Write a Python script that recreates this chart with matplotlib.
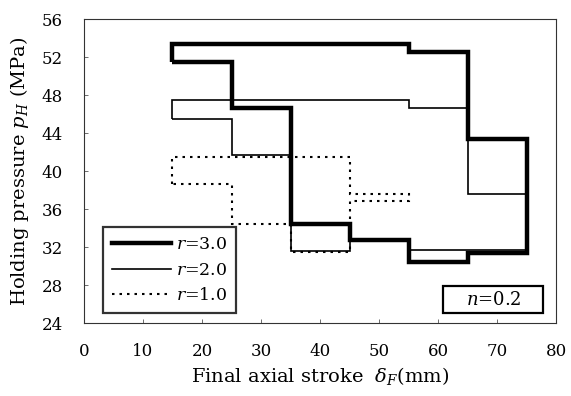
import numpy as np
import matplotlib
matplotlib.use("Agg")
import matplotlib.pyplot as plt
from matplotlib.lines import Line2D
from matplotlib.patches import Rectangle

plt.rcParams.update({
    "font.family": "DejaVu Serif", "font.size": 12,
    "mathtext.fontset": "dejavuserif",
})

# ── Data ───────────────────────────────────────────────────────
edges = [15, 25, 35, 45, 55, 65, 75]        # stroke bins, mm

r3_upper = [53.4, 53.4, 53.4, 53.4, 52.5, 43.4]
r3_lower = [51.5, 46.6, 34.4, 32.7, 30.4, 31.4]

r2_upper = [47.5, 47.5, 47.5, 47.5, 46.6, 37.6]
r2_lower = [45.5, 41.7, 31.6, 32.7, 31.7, 31.7]

r1_edges = [15, 25, 35, 45, 55]
r1_upper = [41.5, 41.5, 41.5, 37.6]
r1_lower = [38.6, 34.4, 31.5, 36.8]

labels = ["$r$=3.0", "$r$=2.0", "$r$=1.0"]
DOT = (0, (1.2, 2.4))

fig = plt.figure(figsize=(5.71, 3.96), dpi=100)
ax = fig.add_axes([0.147, 0.184, 0.827, 0.768])

ax.stairs(r1_upper, r1_edges, baseline=r1_lower, color="black",
          lw=1.5, ls=DOT, zorder=2)
ax.stairs(r2_upper, edges, baseline=r2_lower, color="black",
          lw=1.2, zorder=3)
ax.stairs(r3_upper, edges, baseline=r3_lower, color="black",
          lw=3.2, zorder=4)

ax.set_xlim(0, 80)
ax.set_ylim(24, 56)
ax.set_xticks(np.arange(0, 81, 10))
ax.set_yticks(np.arange(24, 57, 4))
ax.tick_params(direction="in", length=3, width=0.6, color="#555",
               labelsize=12)
ax.tick_params(axis="y", pad=15)
ax.tick_params(axis="x", pad=14)
for s in ax.spines.values():
    s.set_linewidth(0.8)
    s.set_color("#333")

ax.set_ylabel("Holding pressure $p_H$ (MPa)", fontsize=14, labelpad=8)
ax.set_xlabel("Final axial stroke  $\\delta_F$(mm)", fontsize=14,
              labelpad=4)

handles = [Line2D([], [], color="black", lw=3.2),
           Line2D([], [], color="black", lw=1.2),
           Line2D([], [], color="black", lw=1.5, ls=DOT)]
leg = ax.legend(handles, labels, loc="lower left",
                bbox_to_anchor=(0.04, 0.033), borderaxespad=0,
                fontsize=12.5, frameon=True, fancybox=False,
                handlelength=3.4, borderpad=0.5, labelspacing=0.5,
                handletextpad=0.3)
leg.get_frame().set_edgecolor("black")
leg.get_frame().set_linewidth(1.6)

ax.add_patch(Rectangle((0.761, 0.033), 0.212, 0.089, transform=ax.transAxes,
                       fc="white", ec="black", lw=1.6, zorder=5))
ax.text(0.867, 0.077, "$n$=0.2", transform=ax.transAxes, ha="center",
        va="center", fontsize=13, zorder=6)

fig.savefig("out.png", dpi=100)
